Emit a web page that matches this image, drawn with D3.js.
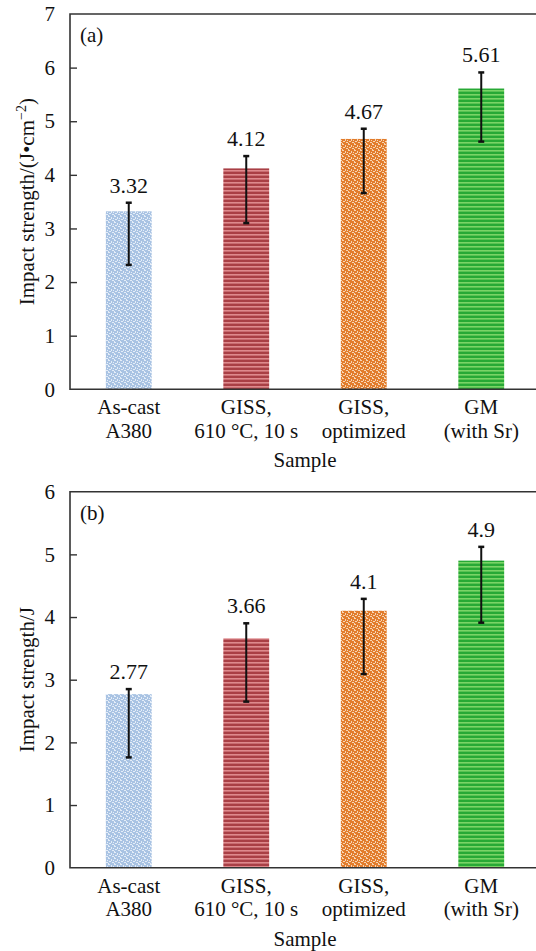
<!DOCTYPE html>
<html>
<head>
<meta charset="utf-8">
<script src="https://cdn.jsdelivr.net/npm/d3@7"></script>
<style>
  body { margin: 0; background: #fff; }
  svg text { font-family: "Liberation Serif", "Nimbus Roman", "Nimbus Roman No9 L", "FreeSerif", "Noto Serif", "Times", "DejaVu Serif", serif !important; fill: #111; }
</style>
</head>
<body>
<svg id="canvas" width="536" height="951"></svg>
<script>
/***********************************************************************/
// Data

var categories = ['As-cast|A380', 'GISS,|610 °C, 10 s', 'GISS,|optimized', 'GM|(with Sr)'];

var valuesA  = [3.32, 4.12, 4.67, 5.61];
var errHighA = [3.48, 4.35, 4.86, 5.91];
var errLowA  = [2.32, 3.10, 3.66, 4.62];
var ticksA   = [0, 1, 2, 3, 4, 5, 6, 7];

var valuesB  = [2.77, 3.66, 4.1, 4.9];
var errHighB = [2.85, 3.90, 4.29, 5.12];
var errLowB  = [1.76, 2.65, 3.09, 3.91];
var ticksB   = [0, 1, 2, 3, 4, 5, 6];

/***********************************************************************/
// Setup

var svg = d3.select('#canvas');
var defs = svg.append('defs');
var fills = ['url(#pBlue)', 'url(#pRed)', 'url(#pOrange)', 'url(#pGreen)'];

// textured fills (blue + orange woven dots, red + green stripes)
function weave(id, base, dot){
  var p = defs.append('pattern').attr('id', id).attr('patternUnits', 'userSpaceOnUse')
    .attr('width', 6).attr('height', 6);
  p.append('rect').attr('width', 6).attr('height', 6).attr('fill', base);
  [[0,0,2,1],[3,1,1,2],[1,3,2,1],[4,4,2,1],[0,5,1,1],[5,2,1,1]].forEach(r => {
    p.append('rect').attr('x', r[0]).attr('y', r[1]).attr('width', r[2]).attr('height', r[3]).attr('fill', dot);
  });
}
function stripes(id, base, line){
  var p = defs.append('pattern').attr('id', id).attr('patternUnits', 'userSpaceOnUse')
    .attr('width', 8).attr('height', 4);
  p.append('rect').attr('width', 8).attr('height', 4).attr('fill', base);
  p.append('rect').attr('y', 2).attr('width', 8).attr('height', 1.6).attr('fill', line);
}
weave('pBlue', '#a9c3e3', '#e4edf8');
weave('pOrange', '#e27c2c', '#f7d6b4');
stripes('pRed', '#a93f45', '#de8a8d');
stripes('pGreen', '#27a935', '#7ad466');

var x = d3.scaleBand().domain(categories).range([70, 540]).paddingInner(0.61).paddingOuter(0.305);

/***********************************************************************/
// Panel

function drawPanel(opt){
  var y = d3.scaleLinear().domain([0, opt.ticks[opt.ticks.length-1]]).range([opt.bottom, opt.top]);
  var g = svg.append('g');

  // bars
  g.selectAll('rect.bar').data(opt.values).enter().append('rect')
    .attr('class', 'bar')
    .attr('x', (d,i) => x(categories[i]))
    .attr('width', x.bandwidth())
    .attr('y', d => y(d))
    .attr('height', d => y(0) - y(d))
    .attr('fill', (d,i) => fills[i]);

  // error bars
  opt.values.forEach((v,i) => {
    var cx = x(categories[i]) + x.bandwidth()/2;
    g.append('line').attr('x1', cx).attr('x2', cx).attr('y1', y(opt.hi[i])).attr('y2', y(opt.lo[i]))
      .attr('stroke', '#111').attr('stroke-width', 2);
    [opt.hi[i], opt.lo[i]].forEach(e => {
      g.append('line').attr('x1', cx-3).attr('x2', cx+3).attr('y1', y(e)).attr('y2', y(e))
        .attr('stroke', '#111').attr('stroke-width', 2.5);
    });
    g.append('text').attr('x', cx).attr('y', y(opt.hi[i]) - 10)
      .attr('text-anchor', 'middle').style('font-size', '22px').text(v);
  });

  // frame
  g.append('path').attr('d', 'M540,' + opt.top + 'H70V' + opt.bottom + 'H540')
    .attr('fill', 'none').attr('stroke', '#333').attr('stroke-width', 1.6);

  // y axis
  var ya = d3.axisLeft(y).tickValues(opt.ticks).tickSize(-7).tickPadding(15).tickFormat(d3.format('d'));
  var yg = g.append('g').attr('transform', 'translate(70,0)').call(ya).attr('font-family', null);
  yg.select('.domain').remove();
  yg.selectAll('line').attr('stroke', '#333').attr('stroke-width', 1.4);
  yg.selectAll('text').style('font-size', '21px').attr('fill', '#111');
  yg.selectAll('.tick').filter(d => d == 0 || d == opt.ticks[opt.ticks.length-1]).select('line').remove();

  // x axis labels
  categories.forEach(c => {
    var cx = x(c) + x.bandwidth()/2;
    c.split('|').forEach((t,k) => {
      g.append('text').attr('x', cx).attr('y', opt.bottom + 25 + k*23.5)
        .attr('text-anchor', 'middle').style('font-size', '21px').text(t);
    });
  });
  g.append('text').attr('x', 305).attr('y', opt.bottom + 78)
    .attr('text-anchor', 'middle').style('font-size', '21px').text('Sample');

  // y title
  var yt = g.append('text').attr('transform', 'translate(34,' + (opt.top+opt.bottom)/2 + ') rotate(-90)')
    .attr('text-anchor', 'middle').style('font-size', '21px');
  opt.title(yt);

  // panel tag
  g.append('text').attr('x', 80).attr('y', opt.top + 28).style('font-size', '21px').text(opt.tag);
}

drawPanel({ top: 14, bottom: 389.3, values: valuesA, hi: errHighA, lo: errLowA, ticks: ticksA, tag: '(a)',
  title: t => {
    t.append('tspan').text('Impact strength/(J\u2022cm');
    t.append('tspan').attr('dy', -8).style('font-size', '14px').text('\u22122');
    t.append('tspan').attr('dy', 8).text(')');
  }
});

drawPanel({ top: 491.7, bottom: 867.7, values: valuesB, hi: errHighB, lo: errLowB, ticks: ticksB, tag: '(b)',
  title: t => { t.text('Impact strength/J'); }
});
</script>
</body>
</html>
